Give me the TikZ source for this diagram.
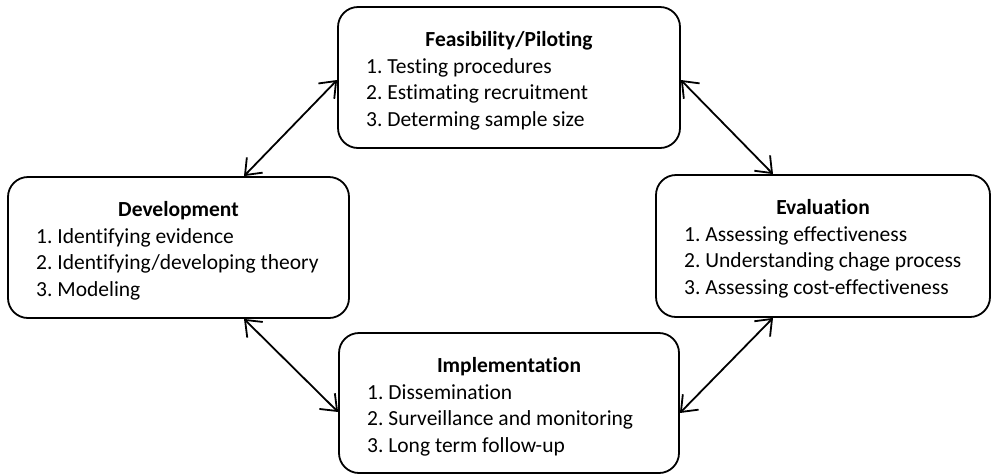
\documentclass[tikz,border=0pt]{standalone}
\usepackage{fontspec}
\setmainfont{Carlito}[Ligatures=NoCommon]
\usetikzlibrary{arrows.meta}
\frenchspacing

% One rounded stage box: name, left, top, right, bottom, heading, three items
\newcommand\stagebox[9]{%
  \node[stage, minimum width={(#4-#2)*1pt}, minimum height={(#5-#3)*1pt}]
    (#1) at ({(#2+#4)/2},{(#3+#5)/2}) {};
  \node[heading] (#1-t) at ({(#2+#4)/2},{#3+39.5}) {#6};
  \node[item] (#1-a) at ({#2+28},{#3+66}) {#7};
  \node[item] (#1-b) at ({#2+28},{#3+92.5}) {#8};
  \node[item] (#1-c) at ({#2+28},{#3+119}) {#9};
}

\begin{document}
\begin{tikzpicture}[x=1pt, y=-1pt,
  stage/.style={draw, line width=1.8pt, rounded corners=20pt, inner sep=0pt},
  heading/.style={anchor=base, inner sep=0pt, font=\fontsize{21.5}{25}\selectfont\bfseries},
  item/.style={anchor=base west, inner sep=0pt, font=\fontsize{21.5}{25}\selectfont},
  >={Straight Barb[length=14pt,width=22pt,line width=1.8pt]},
  link/.style={line width=1.8pt, <->}
]
\useasboundingbox (0,0) rectangle (993,475);

\stagebox{feas}{338}{7}{680}{148}{Feasibility/Piloting}
  {1. Testing procedures}{2. Estimating recruitment}{3. Determing sample size}
\stagebox{dev}{8}{177}{349}{318}{Development}
  {1. Identifying evidence}{2. Identifying/developing theory}{3. Modeling}
\stagebox{eval}{656}{175}{990}{317}{Evaluation}
  {1. Assessing effectiveness}{2. Understanding chage process}{3. Assessing cost-effectiveness}
\stagebox{impl}{339}{333}{679}{473}{Implementation}
  {1. Dissemination}{2. Surveillance and monitoring}{3. Long term follow-up}

% two-way links between neighbouring stages
\draw[link] ([xshift=65.5pt]dev.north) -- ([yshift=-2.5pt]feas.west);
\draw[link] ([yshift=-2.5pt]feas.east) -- ([xshift=-50pt]eval.north);
\draw[link] ([xshift=65.5pt]dev.south) -- ([yshift=-9pt]impl.west);
\draw[link] ([xshift=-50pt]eval.south) -- ([yshift=-10pt]impl.east);
\end{tikzpicture}
\end{document}
